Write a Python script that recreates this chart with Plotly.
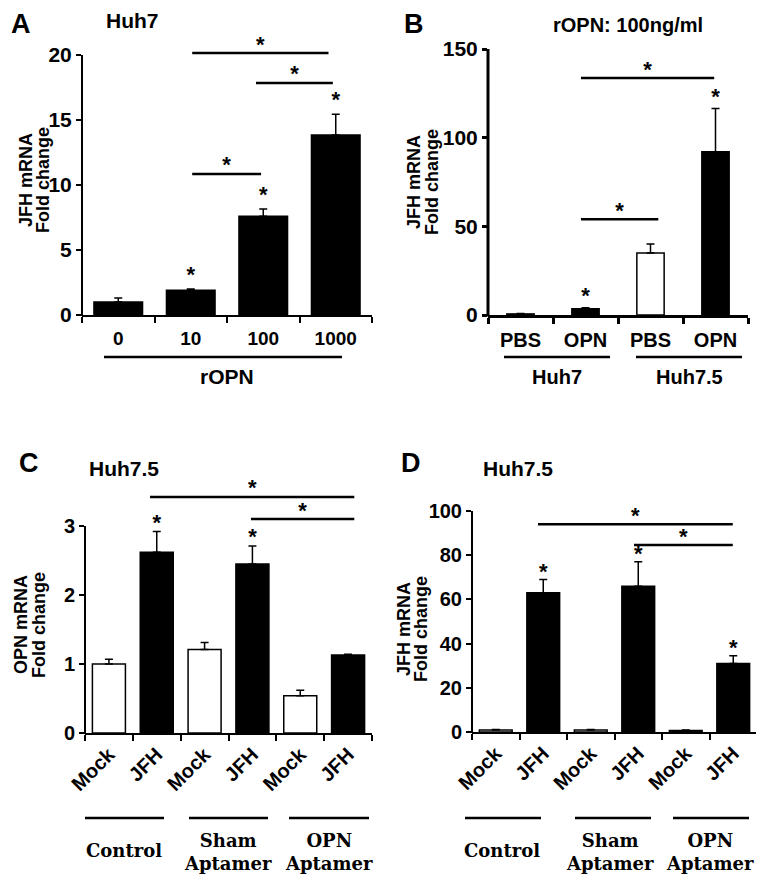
import plotly.graph_objects as go

W, H = 764, 887
OFF = 8  # the page body margin shifts the plot by this many pixels
SANS = 'Liberation Sans, Arial, sans-serif'
NARROW = 'Liberation Sans Narrow, Liberation Sans, Arial, sans-serif'
SERIF = 'DejaVu Serif, serif'

# ---- data ----
# A: Huh7, JFH mRNA fold change vs rOPN dose
a_doses = ['0', '10', '100', '1000']
a_fold = [1.0, 1.9, 7.6, 13.85]
a_err = [0.3, 0.1, 0.55, 1.6]
a_fill = ['black'] * 4
a_star = [False, True, True, True]

# B: rOPN 100ng/ml
b_treat = ['PBS', 'OPN', 'PBS', 'OPN']
b_cells = ['Huh7', 'Huh7.5']
b_fold = [0.6, 3.5, 35.0, 92.0]
b_err = [0.3, 0.6, 5.0, 24.5]
b_fill = ['black', 'black', 'white', 'black']
b_star = [False, True, False, True]

# C / D: Huh7.5, aptamer treatment
cd_infect = ['Mock', 'JFH'] * 3
cd_groups = ['Control', 'Sham<br>Aptamer', 'OPN<br>Aptamer']
cd_fill = ['white', 'black'] * 3

c_fold = [1.0, 2.62, 1.21, 2.45, 0.54, 1.13]
c_err = [0.07, 0.3, 0.1, 0.26, 0.08, 0.01]
c_star = [False, True, False, True, False, False]

d_fold = [0.9, 63.0, 0.9, 66.0, 0.7, 31.0]
d_err = [0.2, 6.0, 0.2, 11.0, 0.2, 3.5]
d_star = [False, True, False, True, False, True]

# significance brackets: (x from, x to, level)
a_brackets = [(1.02, 1.97, 10.85), (1.9, 2.96, 17.85), (1.02, 2.9, 20.15)]
b_brackets = [(0.93, 2.12, 54), (0.93, 2.98, 133.6)]
c_brackets = [(0.86, 5.13, 3.42), (2.97, 5.13, 3.1)]
d_brackets = [(0.89, 4.99, 94), (2.91, 4.99, 84.6)]


def px(x):
    return (x - OFF) / W


def py(y):
    return 1 - (y - OFF) / H


fig = go.Figure()
shapes = []
annotations = []


def add_panel(k, labels, fold, err, fill, stars, brackets, geo):
    left, right, base, top, ymax, yticks = geo['box']
    n = len(labels)
    ppu = (base - top) / ymax
    xa, ya = ('x%d' % k if k > 1 else 'x'), ('y%d' % k if k > 1 else 'y')
    xs = list(range(n))

    fig.add_trace(go.Bar(
        x=xs, y=fold, width=geo['bw'], xaxis=xa, yaxis=ya,
        marker=dict(color=fill, line=dict(color='black', width=1.5)),
        error_y=dict(type='data', array=err, arrayminus=[0] * n, symmetric=False,
                     color='black', thickness=1.5, width=4),
        showlegend=False, hoverinfo='skip'))

    # stars above bars and brackets
    sx, sy = [], []
    for i in range(n):
        if stars[i]:
            sx.append(i)
            sy.append(fold[i] + err[i] + (geo['soff'] - 4) / ppu)
    for x0, x1, lev in brackets:
        shapes.append(dict(type='line', xref=xa, yref=ya, x0=x0, x1=x1, y0=lev, y1=lev,
                           line=dict(color='black', width=2.5)))
        sx.append((x0 + x1) / 2)
        sy.append(lev + (11 - 4) / ppu)
    fig.add_trace(go.Scatter(
        x=sx, y=sy, mode='text', text=['*'] * len(sx), xaxis=xa, yaxis=ya,
        textposition='middle center', cliponaxis=False,
        textfont=dict(family=SANS, size=22, color='black', weight='bold'),
        showlegend=False, hoverinfo='skip'))

    lw = geo['lw']
    fig.layout['xaxis%d' % k if k > 1 else 'xaxis'] = dict(
        domain=[px(left), px(right)], range=[-0.5, n - 0.5], anchor=ya, automargin=False,
        showline=True, linecolor='black', linewidth=lw, showgrid=False, zeroline=False,
        tickmode='array', tickvals=xs, ticktext=labels, ticks='',
        tickangle=geo['xangle'], ticklabelstandoff=geo['xstand'],
        tickfont=geo['xfont'],
        minor=dict(tickmode='array', tickvals=[i - 0.5 for i in range(n + 1)],
                   ticks='outside', ticklen=6, tickwidth=lw, tickcolor='black'))
    fig.layout['yaxis%d' % k if k > 1 else 'yaxis'] = dict(
        domain=[py(base), py(top)], range=[0, ymax], anchor=xa, automargin=False,
        showline=False, showgrid=False, zeroline=False,
        tickmode='array', tickvals=yticks, ticks='outside', ticklen=5,
        tickwidth=lw, tickcolor='black', tickfont=geo['yfont'])
    # y axis line only up to the last tick
    shapes.append(dict(type='line', xref='paper', yref='paper',
                       x0=px(left), x1=px(left), y0=py(base + lw / 2),
                       y1=py(base - yticks[-1] * ppu),
                       line=dict(color='black', width=lw)))


tick20 = dict(family=SANS, size=20, color='black', weight='bold')

add_panel(1, a_doses, a_fold, a_err, a_fill, a_star, a_brackets, dict(
    box=(82, 372, 315, 29, 22, [0, 5, 10, 15, 20]), bw=0.67, soff=17, lw=2,
    xangle=0, xstand=5, xfont=dict(family=NARROW, size=19, color='black', weight='bold'),
    yfont=dict(tick20, size=21)))

add_panel(2, b_treat, b_fold, b_err, b_fill, b_star, b_brackets, dict(
    box=(488, 748, 315, 49, 150, [0, 50, 100, 150]), bw=0.42, soff=14, lw=3,
    xangle=0, xstand=5, xfont=tick20, yfont=dict(tick20, size=21)))

add_panel(3, cd_infect, c_fold, c_err, cd_fill, c_star, c_brackets, dict(
    box=(85, 372, 733, 488, 3.55, [0, 1, 2, 3]), bw=0.69, soff=11, lw=2,
    xangle=-45, xstand=0, xfont=tick20, yfont=tick20))

add_panel(4, cd_infect, d_fold, d_err, cd_fill, d_star, d_brackets, dict(
    box=(472, 757, 732, 511, 100, [0, 20, 40, 60, 80, 100]), bw=0.69, soff=10, lw=2,
    xangle=-45, xstand=0, xfont=tick20, yfont=tick20))


def label(x, y, text, size, family=SANS, angle=0, yanchor='middle'):
    annotations.append(dict(
        xref='paper', yref='paper', x=px(x), y=min(py(y), 1), text=text, showarrow=False,
        xanchor='center', yanchor=yanchor, textangle=angle, borderpad=0,
        font=dict(family=family, size=size, color='black', weight='bold')))


def rule(x0, x1, y):
    shapes.append(dict(type='line', xref='paper', yref='paper',
                       x0=px(x0), x1=px(x1), y0=py(y), y1=py(y),
                       line=dict(color='black', width=2.5)))


# panel letters and titles
label(21, 0, 'A', 27, yanchor='top')
label(414, 0, 'B', 27, yanchor='top')
label(29, 463, 'C', 27)
label(411, 463, 'D', 27)
label(132, 20, 'Huh7', 21)
label(628, 25, 'rOPN: 100ng/ml', 20)
label(124, 468, 'Huh7.5', 21)
label(518, 468, 'Huh7.5', 21)

# y axis titles (two lines each)
for (x1, x2, yc, first) in [(26, 43, 180, 'JFH mRNA'), (414, 432, 182, 'JFH mRNA'),
                            (21, 39, 625, 'OPN mRNA'), (404, 421, 629, 'JFH mRNA')]:
    label(x1, yc, first, 18, angle=-90)
    label(x2, yc, 'Fold change', 18, angle=-90)

# A: dose group
rule(104, 342, 357)
label(227, 376, 'rOPN', 21)

# B: cell lines
rule(504, 610, 357)
rule(636, 742, 357)
label(557, 377, b_cells[0], 20)
label(689, 377, b_cells[1], 20)

# C / D: aptamer groups
for xs, cx in [([(85, 164), (189, 268), (289, 369)], [124, 228, 329]),
               ([(465, 541), (575, 651), (673, 749)], [502, 610, 710])]:
    for (x0, x1), c, g in zip(xs, cx, cd_groups):
        rule(x0, x1, 818)
        label(c, 852 if '<br>' in g else 850, g, 18, family=SERIF)

fig.update_layout(
    width=W, height=H, margin=dict(l=0, r=0, t=0, b=0, autoexpand=False),
    paper_bgcolor='white', plot_bgcolor='white',
    shapes=shapes, annotations=annotations, showlegend=False)

fig.write_html("out.html")
